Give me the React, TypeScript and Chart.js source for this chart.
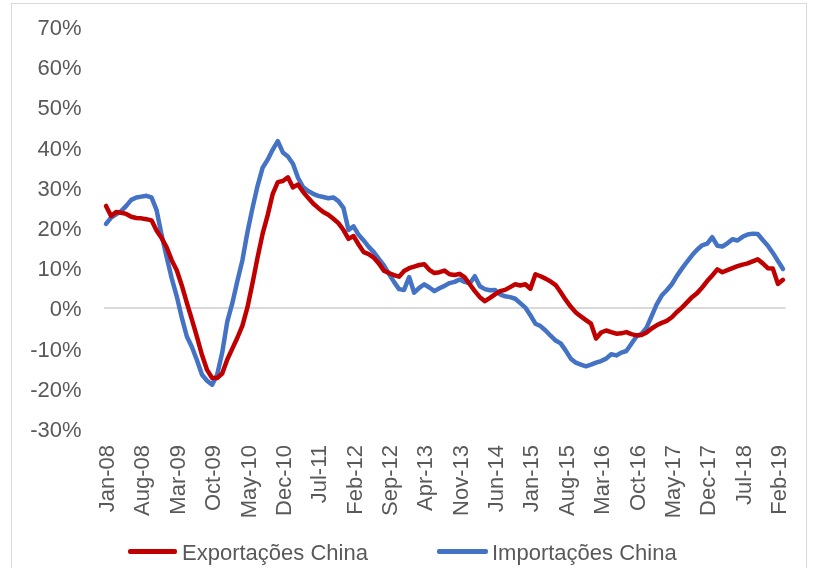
import React, { useEffect, useRef } from "react";
import { Chart, registerables } from "chart.js";

Chart.register(...registerables);

const MONTHS = ["Jan", "Feb", "Mar", "Apr", "May", "Jun", "Jul", "Aug", "Sep", "Oct", "Nov", "Dec"];
const START_YEAR = 2008;
const N_MONTHS = 135;
const categories: string[] = [];
for (let i = 0; i < N_MONTHS; i++) {
  const y = START_YEAR + Math.floor(i / 12);
  categories.push(`${MONTHS[i % 12]}-${String(y % 100).padStart(2, "0")}`);
}

const exportacoes = [
  25.5, 23.0, 24.0, 23.8, 23.5, 22.8, 22.5, 22.4, 22.2, 21.9,
  19.4, 17.5, 15.2, 12.0, 9.5, 5.7, 1.4, -2.8, -7.1, -11.6,
  -15.3, -17.3, -17.3, -16.2, -12.7, -10.0, -7.3, -4.3, 0.3, 6.3,
  12.7, 18.6, 23.2, 28.5, 31.4, 31.7, 32.6, 30.1, 30.8, 29.0,
  27.5, 26.1, 25.0, 24.0, 23.3, 22.3, 21.2, 19.5, 17.3, 18.0,
  15.9, 14.0, 13.5, 12.6, 11.2, 9.4, 8.8, 8.3, 7.9, 9.3,
  10.0, 10.4, 10.8, 11.0, 9.6, 8.8, 9.0, 9.4, 8.5, 8.3,
  8.6, 7.7, 6.0, 4.3, 2.8, 1.8, 2.6, 3.5, 4.3, 4.6,
  5.3, 6.0, 5.7, 6.0, 4.9, 8.5, 8.0, 7.4, 6.7, 5.8,
  4.0, 2.1, 0.4, -1.0, -2.0, -2.9, -3.8, -7.5, -6.0, -5.5,
  -5.9, -6.3, -6.2, -5.9, -6.4, -6.7, -6.6, -6.0, -5.0, -4.2,
  -3.6, -3.1, -2.2, -0.9, 0.2, 1.5, 2.8, 3.8, 5.2, 6.8,
  8.2, 9.7, 9.0, 9.5, 10.0, 10.5, 10.9, 11.2, 11.7, 12.2,
  11.2, 10.0, 9.9, 6.1, 7.1,
];

const importacoes = [
  21.0, 22.6, 23.4, 24.2, 25.5, 27.0, 27.6, 27.8, 28.0, 27.6,
  24.5, 18.3, 12.8, 7.5, 3.0, -2.3, -7.0, -9.6, -12.9, -16.5,
  -18.0, -19.0, -16.5, -11.0, -3.3, 1.3, 6.8, 12.0, 19.0, 25.0,
  30.5, 35.0, 37.0, 39.5, 41.6, 38.8, 37.8, 36.0, 32.5, 30.2,
  29.2, 28.5, 28.0, 27.7, 27.4, 27.6, 26.7, 25.0, 19.5, 20.4,
  18.3, 16.9, 15.3, 14.0, 12.3, 10.7, 8.6, 6.6, 4.8, 4.6,
  7.8, 3.9, 5.1, 6.0, 5.2, 4.3, 5.0, 5.6, 6.3, 6.6,
  7.2, 6.6, 6.2, 8.0, 5.5, 4.8, 4.5, 4.6, 3.5, 3.0,
  2.8, 2.4, 1.3, 0.2, -1.7, -3.8, -4.4, -5.5, -6.8, -8.0,
  -8.7, -10.5, -12.5, -13.5, -14.0, -14.4, -14.0, -13.5, -13.1, -12.5,
  -11.4, -11.7, -11.0, -10.6, -8.8, -7.0, -6.3, -4.8, -1.9, 1.0,
  3.2, 4.5, 6.0, 8.1, 9.9, 11.6, 13.2, 14.6, 15.7, 16.1,
  17.7, 15.6, 15.4, 16.2, 17.2, 16.9, 17.8, 18.4, 18.6, 18.5,
  17.0, 15.6, 13.8, 11.8, 9.8,
];

const SERIES_NAMES = ["Exportações China", "Importações China"];
const RED = "#c00000";
const BLUE = "#4472c4";
const TEXT = "#595959";
const FONT = "'Liberation Sans', Arial, sans-serif";

export default function App() {
  const ref = useRef<HTMLCanvasElement | null>(null);

  useEffect(() => {
    if (!ref.current) return;
    const chart = new Chart(ref.current, {
      type: "line",
      data: {
        labels: categories,
        datasets: [
          {
            label: SERIES_NAMES[0],
            data: exportacoes,
            borderColor: RED,
            backgroundColor: RED,
            borderWidth: 4.5,
            pointRadius: 0,
            tension: 0,
            borderJoinStyle: "round",
            borderCapStyle: "round",
          },
          {
            label: SERIES_NAMES[1],
            data: importacoes,
            borderColor: BLUE,
            backgroundColor: BLUE,
            borderWidth: 4.5,
            pointRadius: 0,
            tension: 0,
            borderJoinStyle: "round",
            borderCapStyle: "round",
          },
        ],
      },
      options: {
        animation: false,
        responsive: false,
        maintainAspectRatio: false,
        layout: { padding: { left: 0, right: 32.5, top: 27, bottom: 0 } },
        plugins: {
          legend: { display: false },
          tooltip: { enabled: false },
          title: { display: false },
        },
        scales: {
          x: {
            type: "category",
            offset: true,
            grid: { display: false, drawTicks: false },
            border: { display: false },
            ticks: {
              autoSkip: false,
              minRotation: 90,
              maxRotation: 90,
              padding: 16,
              labelOffset: 2,
              color: TEXT,
              font: { family: FONT, size: 22 },
              callback: function (this: any, val: any, index: number) {
                return index % 7 === 0 ? this.getLabelForValue(val) : "";
              },
            },
            afterFit: (scale: any) => {
              scale.height = 139;
              scale.paddingLeft = 0;
              scale.paddingRight = 0;
            },
          },
          y: {
            min: -30,
            max: 70,
            border: { display: false },
            grid: {
              drawTicks: false,
              lineWidth: 2,
              color: (ctx: any) =>
                ctx.tick && ctx.tick.value === 0 ? "#d9d9d9" : "rgba(0,0,0,0)",
            },
            ticks: {
              stepSize: 10,
              padding: 22,
              labelOffset: 2,
              color: TEXT,
              font: { family: FONT, size: 22 },
              callback: (v: any) => `${v}%`,
            },
            afterFit: (scale: any) => {
              scale.width = 103.5;
              scale.paddingTop = 0;
              scale.paddingBottom = 0;
            },
          },
        },
      },
    });
    return () => chart.destroy();
  }, []);

  const legendText: React.CSSProperties = {
    position: "absolute",
    top: 540,
    height: 26,
    lineHeight: "26px",
    fontFamily: FONT,
    fontSize: 22,
    color: TEXT,
    whiteSpace: "pre",
  };

  return (
    <div
      style={{
        position: "absolute",
        left: 0,
        top: 0,
        width: 818,
        height: 568,
        overflow: "hidden",
        background: "#ffffff",
      }}
    >
      <div
        style={{
          position: "absolute",
          left: 11,
          top: 3,
          width: 796,
          height: 620,
          border: "1px solid #d9d9d9",
          boxSizing: "border-box",
        }}
      />
      <canvas
        ref={ref}
        width={818}
        height={568}
        style={{ position: "absolute", left: 0, top: 0, width: 818, height: 568 }}
      />
      <div style={{ position: "absolute", left: 128, top: 549, width: 49, height: 5, background: RED, borderRadius: 2 }} />
      <div style={{ ...legendText, left: 182 }}>{SERIES_NAMES[0]}</div>
      <div style={{ position: "absolute", left: 437, top: 549, width: 51, height: 5, background: BLUE, borderRadius: 2 }} />
      <div style={{ ...legendText, left: 492 }}>{SERIES_NAMES[1]}</div>
    </div>
  );
}
